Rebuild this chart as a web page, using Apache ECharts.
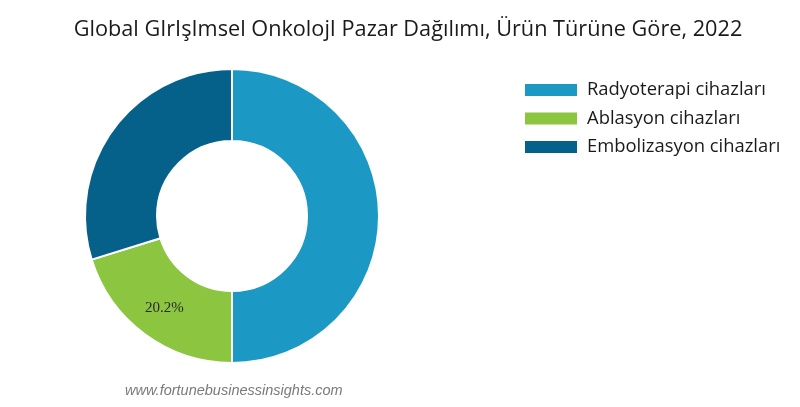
<!DOCTYPE html>
<html>
<head>
<meta charset="utf-8">
<script src="https://cdn.jsdelivr.net/npm/echarts@6/dist/echarts.min.js"></script>
<style>html,body{margin:0;padding:0;background:#fff;}#c{width:800px;height:407px;}</style>
</head>
<body>
<div id="c"></div>
<script>
const titleText = 'Global GIrIşImsel OnkolojI Pazar Dağılımı, Ürün Türüne Göre, 2022';
const categories = ['Radyoterapi cihazları', 'Ablasyon cihazları', 'Embolizasyon cihazları'];
const values = [50.0, 20.2, 29.8];
const labelShown = [false, true, false];
const colors = ['#1b99c4', '#8cc540', '#06618a'];
const sourceText = 'www.fortunebusinessinsights.com';

const chart = echarts.init(document.getElementById('c'));
chart.setOption({
  animation: false,
  backgroundColor: '#fff',
  title: {
    text: titleText,
    left: 403, top: 14, textAlign: 'center',
    textStyle: { fontFamily: 'Open Sans', fontWeight: 'normal', fontSize: 21.7, color: '#1a1a1a' }
  },
  legend: {
    orient: 'vertical',
    left: 518, top: 76,
    itemWidth: 54, itemHeight: 14, itemGap: 10.5,
    icon: 'rect',
    data: categories,
    textStyle: { fontFamily: 'Open Sans', fontSize: 18.4, color: '#1a1a1a', lineHeight: 18, padding: [0, 0, 0, 4] }
  },
  graphic: [{
    type: 'text', left: 125, top: 383,
    style: { text: sourceText, font: 'italic 14.5px "Liberation Sans"', fill: '#7a7a7a' }
  }],
  series: [{
    type: 'pie',
    center: [232, 216],
    radius: [75, 147],
    startAngle: 90,
    clockwise: true,
    itemStyle: { borderColor: '#fff', borderWidth: 2 },
    label: { show: false },
    labelLine: { show: false },
    data: categories.map((n, i) => ({
      name: n, value: values[i],
      itemStyle: { color: colors[i] },
      label: {
        show: labelShown[i], position: 'inside',
        formatter: v => v.value.toFixed(1) + '%',
        fontFamily: 'Liberation Serif', fontSize: 15, color: '#2a2a2a'
      }
    }))
  }]
});
</script>
</body>
</html>
